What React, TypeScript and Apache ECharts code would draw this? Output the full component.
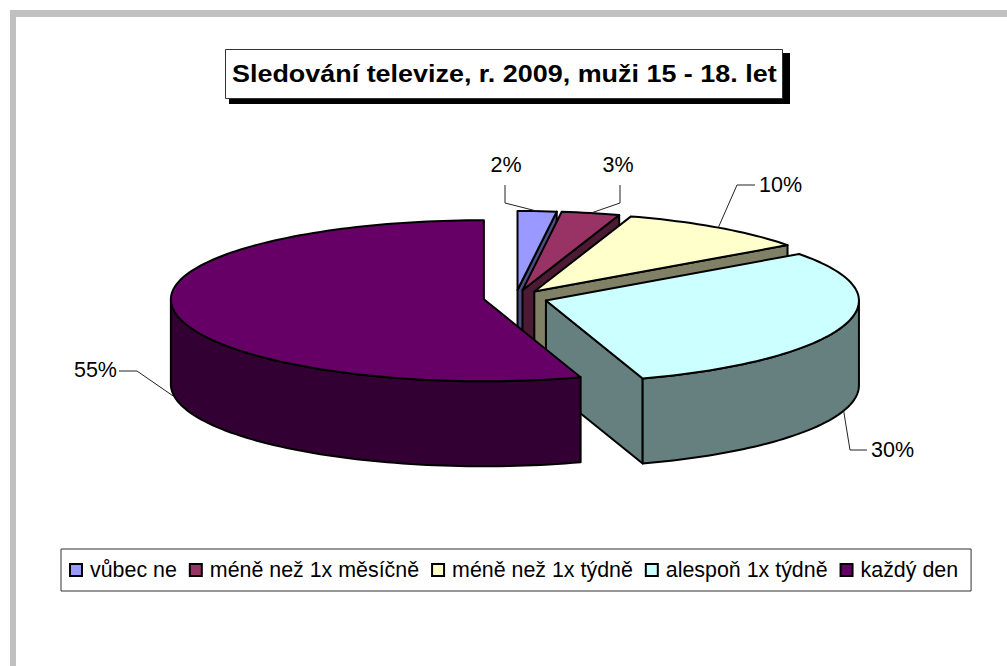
import React, { useEffect, useRef } from "react";
import * as echarts from "echarts";

const titleText = "Sledování televize, r. 2009, muži 15 - 18. let";
const categories = ["vůbec ne", "méně než 1x měsíčně", "méně než 1x týdně", "alespoň 1x týdně", "každý den"];
const values = [2, 3, 10, 30, 55];
const colors = ["#9999ff", "#993366", "#ffffcc", "#ccffff", "#660066"];
const sideColors = ["#4d4d80", "#4d1a33", "#808066", "#668080", "#330033"];
const labelElbows: number[][][] = [
  [[505, 203], [505, 185]],
  [[620, 203], [620, 185]],
  [[737, 185], [755, 185]],
  [[850, 450], [867, 450]],
  [[137, 371], [119, 371]],
];
const labelPos = [
  { x: 506, y: 165, align: "center" },
  { x: 618, y: 165, align: "center" },
  { x: 759, y: 185, align: "left" },
  { x: 871, y: 450, align: "left" },
  { x: 117, y: 370, align: "right" },
];

const CX = 515.5, CY = 298, EXPX = 32, EXPY = 8;
const RX = 313, RY_BACK = 79, RY_FRONT = 82, DEPTH = 85;
const FONT = "Liberation Sans";
const total = values.reduce((a, b) => a + b, 0);
const rad = (d: number) => (d * Math.PI) / 180;

function sliceItem(i: number, value: number) {
  const before = values.slice(0, i).reduce((a, b) => a + b, 0);
  const a0 = (before / total) * 360;
  const a1 = a0 + (value / total) * 360;
  const mid = (a0 + a1) / 2;
  const ax = CX + EXPX * Math.sin(rad(mid));
  const ay = CY - EXPY * Math.cos(rad(mid));
  const pt = (deg: number, down = 0) => {
    const c = Math.cos(rad(deg));
    return [ax + RX * Math.sin(rad(deg)), ay - c * (c > 0 ? RY_BACK : RY_FRONT) + down];
  };
  const arc = (from: number, to: number, down = 0) => {
    const pts: number[][] = [];
    const n = Math.max(2, Math.ceil(Math.abs(to - from) / 1.5));
    for (let k = 0; k <= n; k++) pts.push(pt(from + ((to - from) * k) / n, down));
    return pts;
  };
  const line = { stroke: "#000", lineWidth: 2, lineJoin: "round" };
  const children: any[] = [];
  const poly = (points: number[][], fill: string) =>
    children.push({ type: "polygon", shape: { points }, style: { fill, ...line } });

  const bevel = (deg: number) => poly(
    [[ax, ay], pt(deg), pt(deg, DEPTH), [ax, ay + DEPTH]],
    sideColors[i],
  );
  // inner cut faces: only the ones turned to the viewer
  if (Math.cos(rad(a0 - 90)) < -1e-6) bevel(a0);
  if (Math.cos(rad(a1 + 90)) < -1e-6) bevel(a1);
  // outer wall
  const w0 = Math.max(a0, 90), w1 = Math.min(a1, 270);
  if (w1 > w0) poly([...arc(w0, w1), ...arc(w1, w0, DEPTH)], sideColors[i]);
  // top
  poly([[ax, ay], ...arc(a0, a1)], colors[i]);

  // leader + label
  const c = Math.cos(rad(mid));
  const onWall = c < 0 ? DEPTH : 0;
  const start = pt(mid, onWall);
  children.push({
    type: "polyline",
    shape: { points: [start, ...labelElbows[i]] },
    style: { stroke: "#222", lineWidth: 1, fill: "none" },
  });
  children.push({
    type: "text",
    style: {
      x: labelPos[i].x,
      y: labelPos[i].y,
      text: `${Math.round((value / total) * 100)}%`,
      font: `21.5px "${FONT}"`,
      fill: "#000",
      align: labelPos[i].align,
      verticalAlign: "middle",
    },
  });
  return { type: "group", children };
}

export default function App() {
  const ref = useRef<HTMLDivElement>(null);
  useEffect(() => {
    const chart = echarts.init(ref.current!, null, { renderer: "svg" });
    chart.setOption({
      animation: false,
      backgroundColor: "#fff",
      graphic: [
        { type: "rect", z: 0, shape: { x: 10, y: 10, width: 997, height: 7 }, style: { fill: "#c0c0c0" } },
        { type: "rect", z: 0, shape: { x: 10, y: 10, width: 6, height: 656 }, style: { fill: "#c0c0c0" } },
        { type: "rect", z: 0, shape: { x: 229, y: 53, width: 561, height: 51 }, style: { fill: "#000" } },
        { type: "rect", z: 1, shape: { x: 225.5, y: 49.5, width: 557, height: 49 }, style: { fill: "#fff", stroke: "#333", lineWidth: 1 } },
        {
          type: "text",
          z: 2,
          x: 232,
          y: 73,
          scaleX: 1.099,
          style: {
            text: titleText,
            font: `bold 24.5px "${FONT}"`,
            fill: "#000",
            align: "left",
            verticalAlign: "middle",
          },
        },
      ],
      legend: {
        left: 61,
        top: 549,
        padding: [10, 13, 10, 8],
        orient: "horizontal",
        borderColor: "#333",
        borderWidth: 1,
        itemWidth: 12,
        itemHeight: 12,
        itemGap: 12,
        icon: "rect",
        selectedMode: false,
        data: categories.map((name, i) => ({
          name,
          itemStyle: { color: colors[i], borderColor: "#000", borderWidth: 2 },
        })),
        textStyle: { fontFamily: FONT, fontSize: 21.4, color: "#000", padding: [0, 0, 0, 3], lineHeight: 22 },
      },
      series: categories.map((name, i) => ({
        type: "custom",
        name,
        coordinateSystem: "none",
        data: [values[i]],
        z: 2 + i,
        color: colors[i],
        renderItem: (_: any, api: any) => sliceItem(i, api.value(0)),
      })),
    });
    return () => chart.dispose();
  }, []);
  return <div ref={ref} style={{ position: "fixed", left: 0, top: 0, width: 1007, height: 666 }} />;
}
